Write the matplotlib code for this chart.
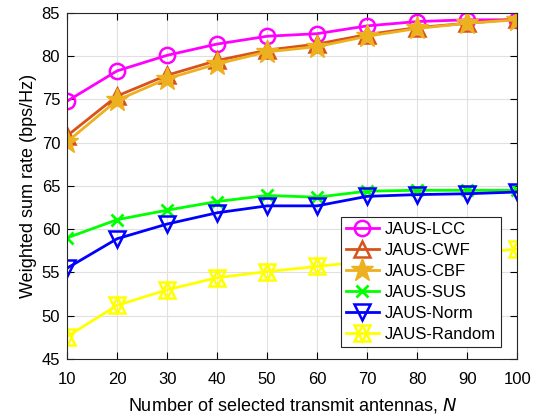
import matplotlib.pyplot as plt
from matplotlib.legend_handler import HandlerTuple

# Number of selected transmit antennas
n_ant = [10, 20, 30, 40, 50, 60, 70, 80, 90, 100]

# Weighted sum rate (bps/Hz) for each scheme
lcc = [74.8, 78.3, 80.1, 81.4, 82.3, 82.6, 83.5, 84.0, 84.2, 84.2]
cwf = [70.8, 75.4, 77.8, 79.5, 80.7, 81.4, 82.5, 83.3, 83.8, 84.3]
cbf = [70.1, 74.9, 77.4, 79.1, 80.5, 81.1, 82.3, 83.2, 83.8, 84.2]
sus = [59.0, 61.1, 62.2, 63.2, 63.9, 63.7, 64.4, 64.5, 64.5, 64.5]
norm = [55.5, 58.9, 60.6, 61.9, 62.7, 62.7, 63.8, 64.0, 64.1, 64.3]
rand = [47.6, 51.2, 53.0, 54.4, 55.1, 55.7, 56.3, 56.8, 57.2, 57.7]

plt.rcParams['font.family'] = ['Liberation Sans', 'DejaVu Sans']

fig = plt.figure(figsize=(5.41, 4.16), dpi=100)
ax = fig.add_axes([0.124, 0.137, 0.832, 0.832])

lw = 2
ax.plot(n_ant, lcc, color='#ff00ff', lw=lw, marker='o', ms=11, mfc='none', mew=1.8, label='JAUS-LCC')
ax.plot(n_ant, cwf, color='#d95319', lw=lw, marker='^', ms=12, mfc='none', mew=1.8, label='JAUS-CWF')
ax.plot(n_ant, cbf, color='#edb120', lw=lw, marker='*', ms=17, mfc='#edb120', mew=1, label='JAUS-CBF')
ax.plot(n_ant, sus, color='#00ff00', lw=lw, marker='x', ms=8, mew=2, label='JAUS-SUS')
ax.plot(n_ant, norm, color='#0000ff', lw=lw, marker='v', ms=12, mfc='none', mew=1.8, label='JAUS-Norm')
# hexagram = up + down triangles
r_line, = ax.plot(n_ant, rand, color='#ffff00', lw=lw)
r_up, = ax.plot(n_ant, rand, color='#ffff00', lw=0, marker='^', ms=12, mfc='none', mew=1.8)
r_dn, = ax.plot(n_ant, rand, color='#ffff00', lw=0, marker='v', ms=12, mfc='none', mew=1.8)

ax.set_xlim(10, 100)
ax.set_ylim(45, 85)
ax.set_xticks(n_ant)
ax.set_yticks(range(45, 86, 5))
ax.tick_params(direction='in', top=True, right=True, labelsize=12, length=5)
ax.tick_params(axis='x', pad=9)
ax.tick_params(axis='y', pad=5)
ax.grid(True, color='#e0e0e0', lw=0.8)
for s in ax.spines.values():
    s.set_color('#262626')
    s.set_linewidth(0.8)

ax.set_xlabel('Number of selected transmit antennas, $\\it{N}$', fontsize=13, labelpad=7)
ax.set_ylabel('Weighted sum rate (bps/Hz)', fontsize=13, labelpad=3)

handles, labels = ax.get_legend_handles_labels()
handles.append((r_line, r_up, r_dn))
labels.append('JAUS-Random')
leg = ax.legend(handles, labels, loc='lower right', fontsize=12, fancybox=False,
                edgecolor='#262626', framealpha=1, borderpad=0.3, labelspacing=0.36,
                handlelength=2.0, handletextpad=0.35, borderaxespad=0.3,
                bbox_to_anchor=(0.975, 0.02),
                handler_map={tuple: HandlerTuple(ndivide=1)})
leg.get_frame().set_linewidth(0.8)

fig.savefig('out.png', dpi=100)
